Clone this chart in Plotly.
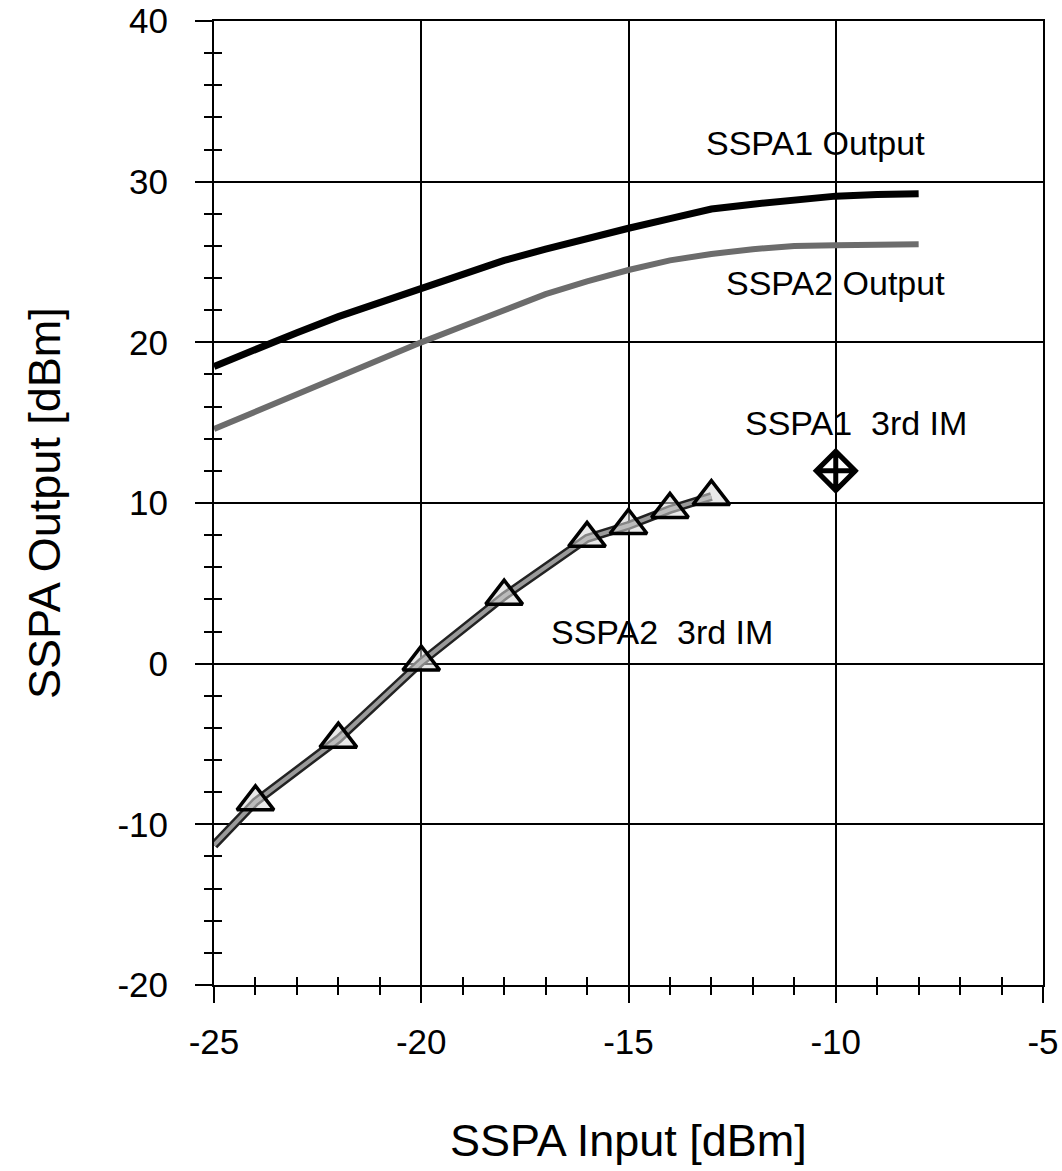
import plotly.graph_objects as go

# ---- data ----
out_x = [-25, -24, -23, -22, -21, -20, -19, -18, -17, -16, -15, -14, -13, -12, -11, -10, -9, -8]
sspa1_out = [18.5, 19.6, 20.6, 21.6, 22.5, 23.4, 24.3, 25.1, 25.8, 26.5, 27.1, 27.7, 28.3, 28.6, 28.9, 29.1, 29.2, 29.25]
sspa2_out = [14.6, 15.7, 16.8, 17.9, 19.0, 20.0, 21.0, 22.0, 23.0, 23.8, 24.5, 25.1, 25.5, 25.8, 26.0, 26.05, 26.1, 26.1]

im2_x = [-25, -24, -22, -20, -18, -16, -15, -14, -13]
im2_y = [-11.3, -8.6, -4.7, 0.1, 4.2, 7.8, 8.6, 9.6, 10.4]

im1_x = [-10]
im1_y = [12.0]

labels = ["SSPA1 Output", "SSPA2 Output", "SSPA1  3rd IM", "SSPA2  3rd IM"]
label_x = [-10.5, -10.0, -9.5, -14.2]
label_y = [32.4, 23.7, 15.0, 2.0]

x_ticks = [-25, -20, -15, -10, -5]
x_ticktext = ["-25", "-20", "-15", "-10", "-5"]
y_ticks = [-20, -10, 0, 10, 20, 30, 40]
y_ticktext = ["-20", "-10", "0", "10", "20", "30", "40"]

FONT = "Liberation Sans, Arial, Helvetica, sans-serif"

fig = go.Figure()

# SSPA2 3rd IM line (dark edge + gray core)
fig.add_trace(go.Scatter(x=im2_x, y=im2_y, mode="lines",
                         line=dict(color="#222222", width=9), showlegend=False, hoverinfo="skip"))
fig.add_trace(go.Scatter(x=im2_x, y=im2_y, mode="lines",
                         line=dict(color="#9a9a9a", width=4), showlegend=False, hoverinfo="skip"))
fig.add_trace(go.Scatter(x=im2_x[1:], y=im2_y[1:], mode="markers",
                         marker=dict(symbol="triangle-up", size=32, color="rgba(215,215,215,0.55)",
                                     line=dict(color="black", width=3.5)),
                         showlegend=False))

# SSPA2 output (gray textured)
fig.add_trace(go.Scatter(x=out_x, y=sspa2_out, mode="lines",
                         line=dict(color="#6c6c6c", width=6), showlegend=False))
# SSPA1 output (thick black)
fig.add_trace(go.Scatter(x=out_x, y=sspa1_out, mode="lines",
                         line=dict(color="black", width=7), showlegend=False))

# SSPA1 3rd IM point
fig.add_trace(go.Scatter(x=im1_x, y=im1_y, mode="markers",
                         marker=dict(symbol="diamond-cross-open", size=30, color="black",
                                     line=dict(color="black", width=5)),
                         showlegend=False))

# dummy trace for overlay axes (minor tick crossings)
fig.add_trace(go.Scatter(x=[None], y=[None], xaxis="x2", yaxis="y2", showlegend=False, hoverinfo="skip"))

for t, lx, ly in zip(labels, label_x, label_y):
    fig.add_annotation(x=lx, y=ly, text=t, showarrow=False,
                       font=dict(family=FONT, size=34, color="black"),
                       xanchor="center", yanchor="middle")

# axis titles
fig.add_annotation(x=0.5, y=0, xref="paper", yref="paper", text="SSPA Input [dBm]",
                   showarrow=False, xanchor="center", yanchor="middle", yshift=-155,
                   font=dict(family=FONT, size=45, color="black"))
fig.add_annotation(x=0, y=0.5, xref="paper", yref="paper", text="SSPA Output [dBm]",
                   showarrow=False, xanchor="center", yanchor="middle", xshift=-170, textangle=-90,
                   font=dict(family=FONT, size=45, color="black"))

axis_common = dict(showline=True, linecolor="black", linewidth=2, mirror=True, automargin=False,
                   showgrid=True, gridcolor="black", gridwidth=1.5, zeroline=False,
                   ticks="outside", tickcolor="black", tickwidth=2, ticklabeloverflow="allow",
                   tickfont=dict(family=FONT, size=35, color="black"))

fig.update_layout(
    width=1062, height=1171,
    margin=dict(l=214, r=19, t=21, b=186, autoexpand=False),
    paper_bgcolor="white", plot_bgcolor="white",
    xaxis=dict(range=[-25, -5], tickvals=x_ticks, ticktext=x_ticktext, ticklen=16, ticklabelstandoff=9,
               minor=dict(dtick=1, ticks="outside", ticklen=8, tickcolor="black", tickwidth=2, showgrid=False),
               **axis_common),
    yaxis=dict(range=[-20, 40], tickvals=y_ticks, ticktext=y_ticktext, ticklen=17, ticklabelstandoff=20,
               minor=dict(dtick=2, ticks="outside", ticklen=8, tickcolor="black", tickwidth=2, showgrid=False),
               **axis_common),
    xaxis2=dict(range=[-25, -5], overlaying="x", anchor="y", side="bottom", showgrid=False, automargin=False,
                showticklabels=False, ticks="", zeroline=False, showline=False,
                minor=dict(dtick=1, ticks="inside", ticklen=8, tickcolor="black", tickwidth=2, showgrid=False)),
    yaxis2=dict(range=[-20, 40], overlaying="y", anchor="x", side="left", showgrid=False, automargin=False,
                showticklabels=False, ticks="", zeroline=False, showline=False,
                minor=dict(dtick=2, ticks="inside", ticklen=8, tickcolor="black", tickwidth=2, showgrid=False)),
)

fig.write_html("out.html")
